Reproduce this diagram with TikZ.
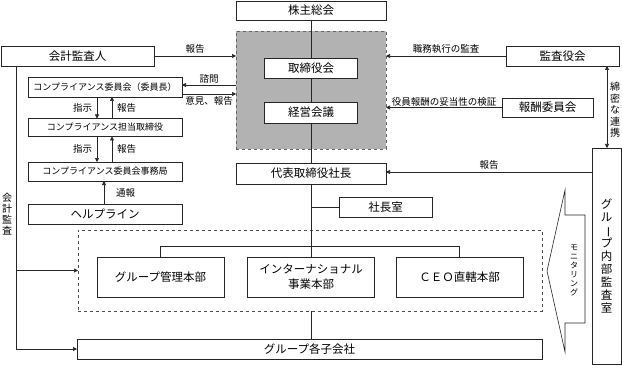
\documentclass[tikz,border=0pt]{standalone}
\usepackage{fontspec}
\setmainfont{Noto Sans CJK JP}
\usepackage{graphicx}
\usetikzlibrary{arrows.meta,calc}
\newcommand{\vbar}{\rotatebox[origin=c]{-90}{ー}}
\begin{document}
\begin{tikzpicture}[x=1pt,y=-1pt,
  every node/.style={inner sep=0pt, outer sep=0pt},
  box/.style={draw=black!85, line width=0.6pt, fill=white, rectangle, align=center, font=\fontsize{11.5}{15}\selectfont},
  cbox/.style={box, font=\fontsize{9}{10}\selectfont},
  lbl/.style={font=\fontsize{9.5}{10}\selectfont},
  ln/.style={draw=black!85, line width=0.6pt},
  tip/.style={},
  arr/.style={ln, -{Triangle[length=4pt,width=4pt]}},
]
\useasboundingbox (0,0) rectangle (622,369);
% gray board area
\node[draw=black!60, dashed, line width=0.6pt, fill=black!30, minimum width=150pt, minimum height=118pt] (gray) at (311,90) {};
\node[draw=black!70, dashed, line width=0.6pt, minimum width=464pt, minimum height=81pt] (dbox) at (310,270.5) {};
% boxes
\node[box, minimum width=150pt, minimum height=19pt] (kabu) at (311,10.5) {株主総会};
\node[box, minimum width=93pt, minimum height=20pt] (tori) at (311,68) {取締役会};
\node[box, minimum width=93pt, minimum height=21pt] (keiei) at (311,112.5) {経営会議};
\node[box, minimum width=150pt, minimum height=21pt] (daihyo) at (311,173.5) {代表取締役社長};
\node[box, minimum width=93pt, minimum height=20pt] (shacho) at (385.5,207) {社長室};
\node[box, minimum width=153pt, minimum height=20pt] (kaikei) at (77.5,56) {会計監査人};
\node[cbox, minimum width=154pt, minimum height=20pt] (compiin) at (105,87) {コンプライアンス委員会（委員長）};
\node[cbox, minimum width=154pt, minimum height=18pt] (comptan) at (105,127.5) {コンプライアンス担当取締役};
\node[cbox, minimum width=154pt, minimum height=19pt] (jimu) at (105,171.5) {コンプライアンス委員会事務局};
\node[box, minimum width=154pt, minimum height=20pt] (help) at (105,214) {ヘルプライン};
\node[box, minimum width=127pt, minimum height=40pt] (gmgmt) at (160.5,277) {グループ管理本部};
\node[box, minimum width=127pt, minimum height=40pt] (intl) at (311,277) {インターナショナル\\事業本部};
\node[box, minimum width=127pt, minimum height=40pt] (ceo) at (459.5,277) {ＣＥＯ直轄本部};
\node[box, minimum width=465pt, minimum height=20pt] (kogaisha) at (309.5,349) {グループ各子会社};
\node[box, minimum width=113pt, minimum height=20pt] (kansa) at (562.5,56) {監査役会};
\node[box, minimum width=91pt, minimum height=19pt] (hoshu) at (547.5,107.5) {報酬委員会};
\node[box, minimum width=29pt, minimum height=216pt, font=\fontsize{11.5}{13}\selectfont] (naibu) at (606.5,256) {グ\\ル\\\vbar\\プ\\内\\部\\監\\査\\室};
% monitoring arrow shape
\draw[ln, fill=white] (565,190) -- (547,271) -- (565,352) -- (565,323) -- (585,323) -- (585,215) -- (565,215) -- cycle;
\node[font=\fontsize{8}{9}\selectfont, align=center] (moni) at (574,270) {モ\\ニ\\タ\\リ\\ン\\グ};
% helper coordinates
\coordinate (y85) at (0,85);
\coordinate (y94) at (0,94);
\coordinate (y172) at (0,172);
\coordinate (y246) at (0,246);
\coordinate (xa) at (97,0);
\coordinate (xb) at (112,0);
\coordinate (xc) at (104,0);
\coordinate (xl) at (16,0);
\coordinate (xr) at (607,0);
% central spine
\draw[ln] (kabu.south) -- (tori.north);
\draw[ln] (tori.south) -- (keiei.north);
\draw[ln] (keiei.south) -- (daihyo.north);
\draw[ln] (daihyo.south) -- (intl.north);
\draw[ln] (intl.south |- dbox.south) -- (intl.south |- kogaisha.north);
\draw[ln] (daihyo.south |- shacho.west) -- (shacho.west);
\draw[ln] (gmgmt.north) -- (gmgmt.north |- y246) -- (ceo.north |- y246) -- (ceo.north);
% left side
\draw[arr] (kaikei.east) -- (gray.west |- kaikei.east) node[lbl, midway, above=3pt] {報告};
\draw[arr] (gray.west |- y85) -- (compiin.east |- y85) node[lbl, midway, above=2pt] {諮問};
\draw[arr] (compiin.east |- y94) -- (gray.west |- y94) node[lbl, midway, below=3pt] {意見、報告};
\draw[arr] (xa |- compiin.south) -- (xa |- comptan.north) node[lbl, midway, left=5pt] {指示};
\draw[arr] (xb |- comptan.north) -- (xb |- compiin.south) node[lbl, midway, right=5pt] {報告};
\draw[arr] (xa |- comptan.south) -- (xa |- jimu.north) node[lbl, midway, left=5pt] {指示};
\draw[arr] (xb |- jimu.north) -- (xb |- comptan.south) node[lbl, midway, right=5pt] {報告};
\draw[arr] (xc |- help.north) -- (xc |- jimu.south) node[lbl, midway, right=12pt] {通報};
\draw[arr] (xl |- kaikei.south) |- (kogaisha.west);
\draw[arr] (xl |- dbox.west) -- (dbox.west);
\node[font=\fontsize{10}{11}\selectfont, align=center] (kaikeilbl) at (7,214) {会\\計\\監\\査};
% right side
\draw[arr] (kansa.west) -- (gray.east |- kansa.west) node[lbl, midway, above=3pt] {職務執行の監査};
\draw[arr] (hoshu.west) -- (gray.east |- hoshu.west) node[lbl, midway, above=1pt] {役員報酬の妥当性の検証};
\draw[ln, {Triangle[length=4pt,width=4pt]}-{Triangle[length=4pt,width=4pt]}] (xr |- kansa.south) -- (xr |- naibu.north);
\node[font=\fontsize{10}{11.5}\selectfont, align=center] (renkei) at (615,110) {綿\\密\\な\\連\\携};
\draw[arr] (naibu.west |- y172) -- (daihyo.east |- y172) node[lbl, pos=0.5, above=3pt] {報告};
\end{tikzpicture}
\end{document}
